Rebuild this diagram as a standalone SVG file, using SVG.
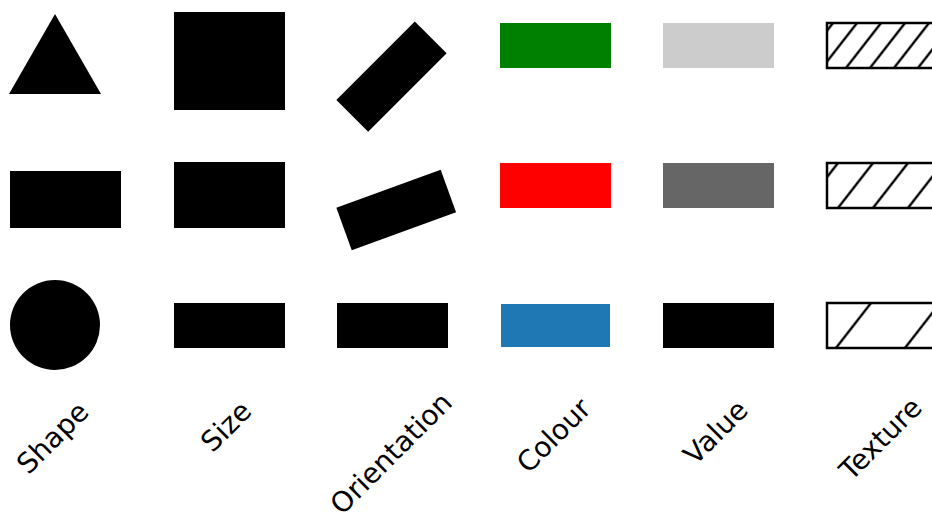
<svg xmlns="http://www.w3.org/2000/svg" width="932" height="520" viewBox="0 0 932 520">
<style>
.lbl{font-family:"DejaVu Sans",sans-serif;font-size:28px;fill:#000;text-anchor:middle}
.blk{fill:#000}
.hatch{fill:none;stroke:#000;stroke-width:3}
.tex{stroke:#000;stroke-width:2.5}
</style>
<defs>
<pattern id="h1" patternUnits="userSpaceOnUse" x="0" y="0" width="24" height="45" patternTransform="translate(833,23) skewX(-37.9)">
<path class="hatch" d="M0,-5 V50 M24,-5 V50"/>
</pattern>
<pattern id="h2" patternUnits="userSpaceOnUse" x="0" y="0" width="35" height="45" patternTransform="translate(838,163) skewX(-37.9)">
<path class="hatch" d="M0,-5 V50 M35,-5 V50"/>
</pattern>
<pattern id="h3" patternUnits="userSpaceOnUse" x="0" y="0" width="69" height="45" patternTransform="translate(871,303) skewX(-37.9)">
<path class="hatch" d="M0,-5 V50 M69,-5 V50"/>
</pattern>
</defs>
<rect width="932" height="520" fill="#fff"/>
<g id="shape-triangle"><polygon class="blk" points="9,94 55,14 101,94"/></g>
<g id="shape-rect"><rect class="blk" x="10" y="171" width="111" height="57"/></g>
<g id="shape-circle"><circle class="blk" cx="55" cy="325" r="45"/></g>
<g id="size-large"><rect class="blk" x="174" y="12" width="111" height="98"/></g>
<g id="size-medium"><rect class="blk" x="174" y="162" width="111" height="66"/></g>
<g id="size-small"><rect class="blk" x="174" y="303" width="111" height="45"/></g>
<g id="orient-45"><rect class="blk" x="-55.5" y="-22.5" width="111" height="45" transform="translate(391.5,76.7) rotate(-45)"/></g>
<g id="orient-20"><rect class="blk" x="-55.5" y="-22.5" width="111" height="45" transform="translate(396.2,210) rotate(-20)"/></g>
<g id="orient-0"><rect class="blk" x="337" y="303" width="111" height="45"/></g>
<g id="colour-green"><rect x="500" y="23" width="111" height="45" fill="#008000"/></g>
<g id="colour-red"><rect x="500" y="163" width="111" height="45" fill="#ff0000"/></g>
<g id="colour-blue"><rect x="501" y="304" width="109" height="43" fill="#1f77b4"/></g>
<g id="value-light"><rect x="663" y="23" width="111" height="45" fill="#cccccc"/></g>
<g id="value-mid"><rect x="663" y="163" width="111" height="45" fill="#666666"/></g>
<g id="value-dark"><rect x="663" y="303" width="111" height="45" fill="#000000"/></g>
<g id="texture-dense"><rect class="tex" x="827" y="23" width="111" height="45" fill="url(#h1)"/></g>
<g id="texture-medium"><rect class="tex" x="827" y="163" width="111" height="45" fill="url(#h2)"/></g>
<g id="texture-sparse"><rect class="tex" x="827" y="303" width="111" height="45" fill="url(#h3)"/></g>
<g id="connectors"></g>
<g id="labels">
<text class="lbl" transform="translate(59.4,444.6) rotate(-45)">Shape</text>
<text class="lbl" transform="translate(232.9,433.2) rotate(-45)">Size</text>
<text class="lbl" transform="translate(398,460) rotate(-45)">Orientation</text>
<text class="lbl" transform="translate(560.5,442.3) rotate(-45)">Colour</text>
<text class="lbl" transform="translate(722.5,439) rotate(-45)">Value</text>
<text class="lbl" transform="translate(887.4,445.5) rotate(-45)">Texture</text>
</g>
</svg>
